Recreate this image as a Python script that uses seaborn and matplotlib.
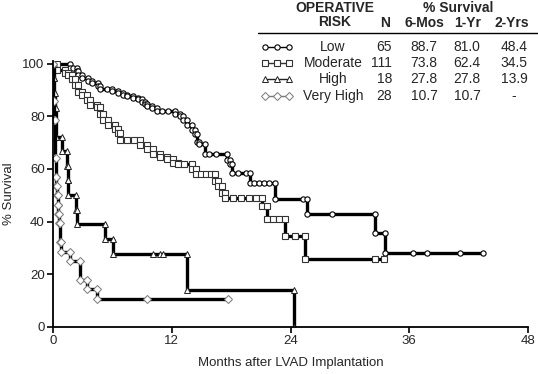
import numpy as np
import pandas as pd
import matplotlib
matplotlib.use("Agg")
import matplotlib.pyplot as plt
import matplotlib.lines as mlines
import seaborn as sns

# === Data (months, % survival after each drop) ===
low_t = [1.7, 2.4, 2.5, 2.9, 3.5, 3.9, 4.5, 4.7, 6.0, 6.6, 7.1, 7.5, 8.1, 8.6, 9.0, 9.3,
         9.5, 10.0, 10.5, 12.3, 12.8, 13.1, 13.5, 14.0, 14.3, 14.6, 14.8, 15.4, 17.6,
         17.9, 18.1, 19.9, 22.4, 25.7, 32.5, 33.5]
low_s = [98.5, 97.0, 95.5, 94.5, 93.5, 92.5, 91.5, 90.5, 89.5, 88.7, 88.2, 87.6, 87.0,
         86.4, 85.6, 84.8, 84.0, 83.0, 82.0, 81.0, 80.2, 78.6, 76.7, 74.8, 73.3, 70.3,
         69.5, 65.8, 63.5, 61.7, 58.3, 54.5, 48.4, 42.9, 35.7, 28.2]
low_cens = [2.0, 5.5, 11.0, 11.6, 15.8, 16.5, 18.7, 19.5, 20.3, 20.8, 21.3, 21.8,
            25.3, 28.2, 36.4, 37.8, 41.1]
low_end = 43.4

mod_t = [0.4, 1.2, 1.5, 1.9, 2.2, 2.5, 2.9, 3.4, 3.7, 4.4, 4.7, 5.1, 5.6, 6.3, 6.6,
         6.8, 8.8, 9.5, 10.1, 10.8, 11.5, 12.1, 12.6, 14.0, 14.5, 16.4, 16.7, 17.1,
         17.4, 21.1, 21.6, 23.4, 25.5]
mod_s = [97.7, 96.6, 95.5, 94.0, 91.7, 89.1, 88.0, 86.1, 84.2, 83.5, 80.8, 78.6,
         76.7, 75.2, 73.8, 71.1, 69.2, 67.7, 65.8, 64.7, 63.9, 62.4, 62.0, 59.8, 57.9,
         55.3, 53.4, 50.8, 48.9, 45.9, 41.0, 34.5, 25.9]
mod_cens = [7.5, 8.2, 13.2, 15.0, 15.5, 16.0, 18.2, 19.0, 19.8, 20.5, 22.2, 22.8,
            24.5, 32.5]
mod_end = 33.4

high_t = [0.1, 0.15, 0.2, 0.3, 0.95, 1.45, 1.5, 1.55, 2.35, 2.4, 5.3, 6.1, 13.5, 24.4]
high_s = [94.4, 88.9, 83.3, 72.2, 66.7, 61.1, 55.6, 50.0, 44.4, 38.9, 33.3, 27.8,
          13.9, 0.0]
high_cens = [10.1, 10.8, 11.1]
high_end = 24.4

vh_t = [0.05, 0.1, 0.2, 0.3, 0.35, 0.45, 0.5, 0.55, 0.65, 0.7, 0.8, 1.7, 2.7, 3.4, 4.4]
vh_s = [85.7, 78.6, 64.3, 57.1, 53.6, 50.0, 46.4, 42.9, 39.3, 32.1, 28.6, 25.0, 17.9,
        14.3, 10.7]
vh_cens = [9.5]
vh_end = 17.7

risk_names = ["Low", "Moderate", "High", "Very High"]
risk_n = ["65", "111", "18", "28"]
surv_6mo = ["88.7", "73.8", "27.8", "10.7"]
surv_1yr = ["81.0", "62.4", "27.8", "10.7"]
surv_2yr = ["48.4", "34.5", "13.9", "-"]


def km_vertices(ev_t, ev_s, cens_t, end_t):
    items = [(t, 0, s) for t, s in zip(ev_t, ev_s)] + [(t, 1, None) for t in cens_t]
    items.sort(key=lambda r: (r[0], r[1]))
    xs, ys = [0.0], [100.0]
    cur = 100.0
    for t, kind, s in items:
        if kind == 0:
            xs += [t, t]
            ys += [cur, s]
            cur = s
        else:
            xs.append(t)
            ys.append(cur)
    if end_t > xs[-1]:
        xs.append(end_t)
        ys.append(cur)
    return pd.DataFrame({"months": xs, "survival": ys})


groups = [
    (low_t, low_s, low_cens, low_end, dict(marker="o", ms=3.8, mec="black", mew=0.8)),
    (mod_t, mod_s, mod_cens, mod_end, dict(marker="s", ms=5.0, mec="#333333", mew=0.8)),
    (high_t, high_s, high_cens, high_end, dict(marker="^", ms=4.2, mec="#222222", mew=0.7)),
    (vh_t, vh_s, vh_cens, vh_end, dict(marker="D", ms=3.6, mec="#777777", mew=0.7)),
]

sns.set_theme(style="ticks")
plt.rcParams["font.family"] = ["Liberation Sans", "DejaVu Sans"]

fig = plt.figure(figsize=(5.38, 3.74), dpi=100)
ax = fig.add_axes([0.0985, 0.126, 0.883, 0.711])

for ev_t, ev_s, cens, end, mk in groups:
    df = km_vertices(ev_t, ev_s, cens, end)
    sns.lineplot(data=df, x="months", y="survival", sort=False, estimator=None,
                 color="black", linewidth=2.4, mfc="white", ax=ax, **mk)

ax.set_xlim(0, 48)
ax.set_ylim(0, 101)
ax.set_xticks([0, 12, 24, 36, 48])
ax.set_yticks([0, 20, 40, 60, 80, 100])
ax.tick_params(labelsize=9.5, length=4, width=1.2, color="black", pad=2)
for side in ["left", "bottom"]:
    ax.spines[side].set_linewidth(1.3)
    ax.spines[side].set_color("black")
sns.despine(ax=ax)
ax.set_xlabel("Months after LVAD Implantation", fontsize=9.5, labelpad=7)
ax.set_ylabel("% Survival", fontsize=9.5, labelpad=5)

# === Table-style legend in the top right ===
W, H = 538.0, 374.0
def fx(px):
    return px / W
def fy(py):
    return 1 - py / H

bold = dict(fontsize=10, fontweight="bold", ha="center", va="center")
fig.text(fx(335), fy(8), "OPERATIVE", **bold)
fig.text(fx(335), fy(22), "RISK", **bold)
fig.text(fx(458), fy(8), "% Survival", **bold)
fig.text(fx(385), fy(23), "N", **bold)
fig.text(fx(424), fy(23), "6-Mos", **bold)
fig.text(fx(468), fy(23), "1-Yr", **bold)
fig.text(fx(512), fy(23), "2-Yrs", **bold)
fig.add_artist(mlines.Line2D([fx(258), fx(538)], [fy(33), fy(33)],
                             transform=fig.transFigure, color="black", lw=1.0))

row_y = [47, 63, 79, 96]
for i, (_, _, _, _, mk) in enumerate(groups):
    y = fy(row_y[i])
    fig.add_artist(mlines.Line2D([fx(265), fx(277), fx(289)], [y, y, y],
                                 transform=fig.transFigure, color=mk["mec"], lw=1.0,
                                 marker=mk["marker"], ms=mk["ms"],
                                 mfc="white", mec=mk["mec"], mew=mk["mew"]))
    norm = dict(fontsize=10, ha="center", va="center")
    fig.text(fx(333), y, risk_names[i], **norm)
    fig.text(fx(392), y, risk_n[i], fontsize=10, ha="right", va="center")
    fig.text(fx(424), y, surv_6mo[i], **norm)
    fig.text(fx(467), y, surv_1yr[i], **norm)
    fig.text(fx(514), y, surv_2yr[i], **norm)

fig.savefig("out.png", dpi=100)
